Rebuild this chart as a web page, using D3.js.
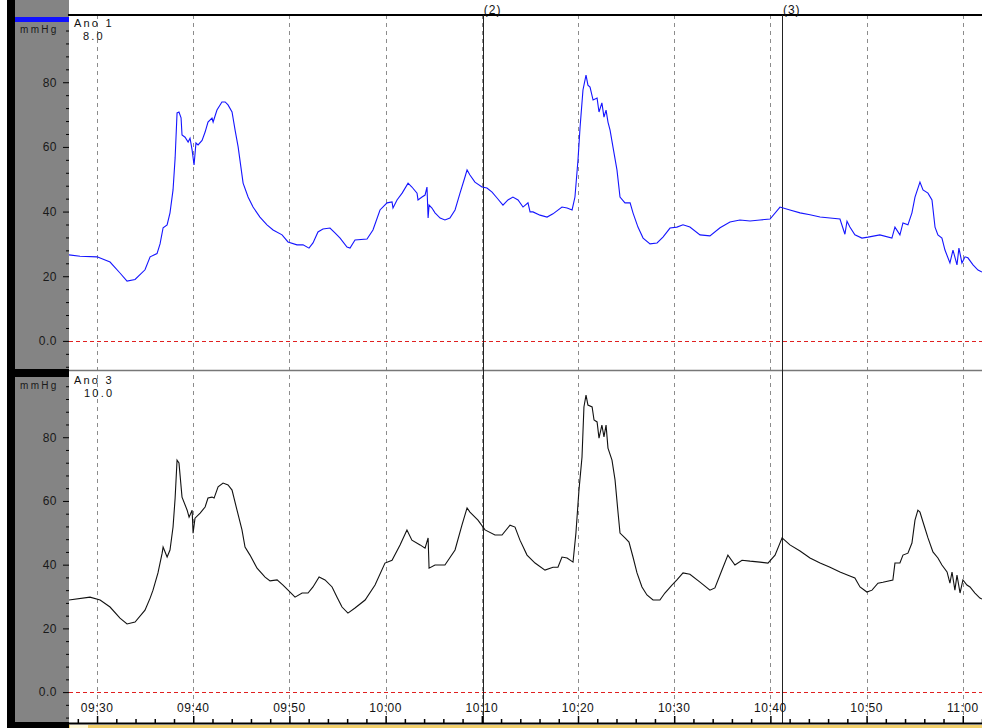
<!DOCTYPE html>
<html>
<head>
<meta charset="utf-8">
<script src="https://cdn.jsdelivr.net/npm/d3@7"></script>
<style>
  body { margin: 0; background: #fff; }
  svg text { font-family: "Liberation Sans", Arial, sans-serif; }
</style>
</head>
<body>
<div id="chart"></div>
<script>
// recording window, minutes after 09:00
var startMin = 27.09, endMin = 122.0;

// Ano 1 (blue) - minutes after 09:00 / mmHg
var ano1Min = [27.09, 28.23, 30, 31.35, 32.39, 33.12, 33.95, 34.99, 35.51, 36.24, 36.55, 36.86, 37.28, 37.59, 37.9, 38.11, 38.32, 38.52, 38.73, 38.84,
  39.15, 39.46, 39.67, 39.88, 40.08, 40.29, 40.5, 40.91, 41.23, 41.54, 41.95, 42.06, 42.47, 42.99, 43.31, 43.62, 44.03, 44.35, 44.66, 45.18,
  45.7, 46.22, 46.94, 47.67, 48.3, 49.23, 49.85, 50.79, 51.41, 52.04, 52.45, 52.97, 53.49, 54.22, 54.74, 55.26, 55.99, 56.3, 56.82, 58.07,
  58.69, 59.42, 60.15, 60.67, 60.77, 61.19, 61.71, 62.33, 62.74, 63.26, 63.37, 63.78, 64.1, 64.3, 64.41, 64.51, 64.82, 65.14, 65.66, 66.17,
  66.69, 67.21, 67.73, 68.25, 68.46, 68.77, 69.29, 70.02, 70.54, 71.06, 71.58, 72.2, 72.72, 73.24, 73.76, 74.28, 74.8, 75.01, 75.32, 76.05,
  76.78, 77.4, 78.34, 78.86, 79.38, 79.69, 80, 80.21, 80.52, 80.83, 81.04, 81.25, 81.56, 81.98, 82.18, 82.49, 82.7, 82.91, 83.12, 83.33,
  83.64, 84.05, 84.37, 84.89, 85.41, 85.72, 86.24, 86.76, 87.48, 88.21, 88.84, 89.56, 90.29, 90.91, 91.64, 92.68, 93.72, 94.76, 95.8, 96.84,
  97.88, 98.92, 99.96, 101, 102.04, 103.08, 104.12, 105.16, 106.2, 107.23, 107.75, 107.96, 108.27, 108.79, 109.52, 110.15, 111.39, 112.64, 112.95, 113.47,
  113.78, 114.3, 114.72, 115.03, 115.55, 115.86, 116.38, 116.8, 117.11, 117.42, 117.84, 118.15, 118.67, 118.98, 119.4, 119.6, 119.92, 120.23, 120.54, 121.06,
  121.58, 122];
var ano1Val = [26.6, 26.2, 26, 24.4, 21, 18.5, 19, 22, 26, 27, 30, 35, 35.9, 39.6, 46.7, 56.6, 70.5, 70.8, 69, 63.7,
  63, 61.5, 62.7, 59, 54.4, 61.2, 60.6, 62, 64.6, 67.7, 68.9, 67.7, 71.4, 73.9, 73.9, 73, 70.8, 65.2, 60, 48.8,
  44.5, 41.4, 38.3, 35.9, 34.3, 32.8, 30.6, 29.7, 29.7, 28.7, 30.3, 33.7, 34.6, 34.9, 33.4, 31.8, 29, 28.7, 31.2, 31.5,
  34.3, 40.5, 42.7, 43, 41.1, 43.6, 45.7, 48.8, 47.6, 45.7, 43.6, 44.5, 45.1, 47.6, 38, 42, 41.1, 39.6, 38, 37.4,
  38, 40.5, 45.7, 50.7, 52.9, 51.3, 49.1, 47.6, 47.3, 46, 44.2, 42, 43.6, 44.5, 43.6, 41.4, 42.7, 39.9, 39.9, 38.9,
  38.3, 39.3, 41.4, 41.1, 40.5, 44.5, 56, 66.2, 77.6, 82.2, 79.1, 78.5, 74.5, 75.1, 70.8, 73.6, 69.2, 71.4, 67.7, 65.2,
  60, 52.9, 44.5, 42.7, 42.7, 39.6, 35.2, 31.8, 30, 30.3, 32.1, 34.9, 35.2, 35.9, 35.2, 32.8, 32.5, 35, 36.8, 37.4,
  37.1, 37.4, 37.7, 41.4, 40.5, 39.6, 39, 38.3, 38, 37.7, 33, 37, 35.2, 32.8, 31.8, 32.1, 32.8, 31.8, 35.2, 32.8,
  36.5, 35.9, 39.6, 44.5, 49.1, 46.7, 45.7, 43.6, 35.2, 32.8, 31.8, 28.1, 24.1, 28.1, 23.5, 28.7, 24.1, 26, 25.7, 23.5,
  21.9, 21.3];

// Ano 3 (black) - minutes after 09:00 / mmHg
var ano3Min = [27.09, 29.27, 30.31, 31.35, 32.39, 33.12, 33.95, 34.99, 35.51, 35.82, 36.34, 36.76, 36.86, 37.28, 37.59, 37.9, 38.11, 38.32, 38.52, 38.84,
  39.36, 39.56, 39.88, 39.98, 40.19, 40.71, 41.23, 41.54, 41.95, 42.16, 42.58, 43.1, 43.62, 44.03, 44.55, 45.07, 45.38, 45.9, 46.63, 47.46,
  47.98, 48.71, 49.33, 50.06, 50.58, 51.31, 51.93, 52.45, 53.08, 53.7, 54.43, 54.95, 55.47, 56.09, 56.82, 57.86, 58.9, 59.94, 60.67, 61.5,
  62.22, 62.74, 63.58, 64.1, 64.41, 64.51, 65.14, 66.17, 67.21, 67.94, 68.46, 68.77, 69.6, 70.33, 71.37, 72.1, 72.93, 73.45, 73.97, 74.7,
  75.53, 76.57, 77.4, 77.92, 78.34, 78.86, 79.48, 79.79, 80.1, 80.42, 80.62, 80.83, 81.04, 81.46, 81.66, 81.98, 82.18, 82.49, 82.7, 82.91,
  83.12, 83.53, 83.85, 84.16, 84.37, 84.89, 85.3, 85.72, 86.13, 86.65, 87.17, 87.8, 88.52, 89.04, 89.77, 90.29, 90.91, 91.64, 92.68, 93.72,
  94.24, 94.97, 95.59, 96.32, 97.05, 97.88, 98.92, 99.75, 100.48, 101.21, 102.04, 103.08, 104.12, 105.16, 106.2, 107.23, 108.06, 108.79, 109.31, 110.04,
  110.56, 111.18, 111.7, 112.74, 112.95, 113.47, 113.78, 114.3, 114.72, 115.03, 115.34, 115.55, 115.86, 116.38, 116.9, 117.42, 117.84, 118.36, 118.67, 118.88,
  119.19, 119.4, 119.71, 120.02, 120.44, 120.75, 121.27, 121.79, 122];
var ano3Val = [28.9, 29.8, 28.9, 26.7, 23.2, 21.4, 22, 25.7, 29.5, 32, 37.4, 43.6, 45.5, 42.4, 44.6, 51.8, 60.9, 72.8, 71.9, 61.2,
  57.1, 54.9, 57.1, 49.9, 54.6, 56.2, 58.1, 60.9, 61.2, 60.9, 64.4, 65.6, 65, 63.4, 57.1, 50.9, 45.5, 43, 38.9, 36.1,
  34.9, 35.2, 33.6, 31.4, 29.8, 31.1, 31.1, 33, 36.1, 35.2, 33, 29.8, 26.7, 24.8, 26.4, 28.9, 33.6, 40.5, 41.4, 46.2,
  50.9, 47.7, 46.2, 45.2, 48.4, 38.9, 39.9, 39.9, 44.6, 52.4, 57.8, 56.5, 54, 50.9, 49.3, 49.3, 52.4, 51.8, 47.7, 43,
  40.5, 38.3, 39.2, 39.2, 42.4, 42.1, 40.8, 49.9, 63.4, 73.8, 89.5, 93.2, 90.1, 89.5, 85.4, 84.8, 79.7, 83.8, 80.1, 83.8,
  76.6, 72.8, 66.6, 56.2, 49.9, 48.4, 47.1, 42.4, 37.4, 33, 30.5, 28.9, 28.9, 31.1, 33.6, 35.2, 37.4, 37, 34.5, 32,
  32.7, 38.3, 43, 39.9, 41.4, 41.1, 40.8, 40.5, 43, 48.4, 46.2, 44.3, 42.1, 40.5, 39.2, 37.7, 36.7, 35.8, 33, 31.4,
  32, 34.2, 34.5, 35.2, 40.5, 40.5, 43, 43.6, 46.8, 54, 57.1, 56.5, 53.4, 48.4, 44, 42.1, 39.9, 37.7, 34.2, 37.7,
  32, 36.7, 31.1, 35.2, 33.6, 33, 31.1, 29.5, 29.2];

// event markers
var eventLabels = ["(2)", "(3)"];
var eventMin = [70.1, 101.2];

// panel titles
var panelNames = ["Ano 1", "Ano 3"];
var panelScaleText = ["8.0", "10.0"];

var W = 982, H = 728;
var plotL = 69, plotR = 982, topY = 15, sepY = 370, botY = 723;

function toDate(m) { return new Date(2000, 0, 1, 9, 0, Math.round(m * 60)); }

var svg = d3.select("#chart").append("svg")
    .attr("width", W)
    .attr("height", H);

var x = d3.scaleTime()
    .domain([toDate(startMin), toDate(endMin)])
    .range([plotL, plotR]);

var y1 = d3.scaleLinear().domain([-9, 100.8]).range([sepY, topY]);
var y3 = d3.scaleLinear().domain([-9.7, 101.1]).range([botY, sepY]);

// left gray strip
svg.append("rect").attr("x", 7).attr("y", 0).attr("width", 8).attr("height", H).attr("fill", "#000");
svg.append("rect").attr("x", 15).attr("y", 0).attr("width", plotL - 15).attr("height", botY).attr("fill", "#848484");
svg.append("rect").attr("x", 7).attr("y", sepY - 1).attr("width", plotL - 7).attr("height", 8).attr("fill", "#000");
svg.append("rect").attr("x", 7).attr("y", botY - 1).attr("width", plotL - 7).attr("height", H - botY + 1).attr("fill", "#000");
svg.append("rect").attr("x", 15).attr("y", 17).attr("width", plotL - 15).attr("height", 5).attr("fill", "#1010ff");

// bottom yellow strip
svg.append("rect").attr("x", plotL).attr("y", botY + 2).attr("width", W - plotL).attr("height", 3).attr("fill", "#f2cf6a");
svg.append("rect").attr("x", plotL + 1).attr("y", botY + 2).attr("width", 18).attr("height", 3).attr("fill", "#fff8d8");

// vertical dashed gridlines every 10 minutes
var gridTicks = x.ticks(d3.timeMinute.every(10));
svg.append("g").selectAll("line")
  .data(gridTicks)
  .enter().append("line")
    .attr("x1", function(d) { return Math.round(x(d)) + 0.5; })
    .attr("x2", function(d) { return Math.round(x(d)) + 0.5; })
    .attr("y1", topY)
    .attr("y2", botY)
    .attr("stroke", "#8c8c8c")
    .attr("stroke-dasharray", "4,4");

// zero lines
svg.append("line")
    .attr("x1", plotL).attr("x2", plotR)
    .attr("y1", Math.round(y1(0)) + 0.5).attr("y2", Math.round(y1(0)) + 0.5)
    .attr("stroke", "#e02020").attr("stroke-dasharray", "4,3");
svg.append("line")
    .attr("x1", plotL).attr("x2", plotR)
    .attr("y1", Math.round(y3(0)) + 0.5).attr("y2", Math.round(y3(0)) + 0.5)
    .attr("stroke", "#e02020").attr("stroke-dasharray", "4,3");

// separator and top border
svg.append("line").attr("x1", plotL).attr("x2", plotR).attr("y1", sepY + 0.5).attr("y2", sepY + 0.5)
    .attr("stroke", "#777").attr("stroke-width", 1.5);
svg.append("line").attr("x1", plotL - 1).attr("x2", plotR).attr("y1", topY).attr("y2", topY)
    .attr("stroke", "#000").attr("stroke-width", 2);

// event lines
svg.append("g").selectAll("line")
  .data(eventMin)
  .enter().append("line")
    .attr("x1", function(d) { return Math.round(x(toDate(d))) + 0.5; })
    .attr("x2", function(d) { return Math.round(x(toDate(d))) + 0.5; })
    .attr("y1", topY)
    .attr("y2", botY)
    .attr("stroke", "#222");
svg.append("g").selectAll("text")
  .data(eventMin)
  .enter().append("text")
    .attr("x", function(d) { return x(toDate(d)) + 1; })
    .attr("y", 14)
    .style("font-size", "12px")
    .style("letter-spacing", "1px")
    .attr("fill", "#111")
    .text(function(d, i) { return eventLabels[i]; });

// traces
var line1 = d3.line()
    .x(function(d, i) { return x(toDate(ano1Min[i])); })
    .y(function(d) { return y1(d); });
var line3 = d3.line()
    .x(function(d, i) { return x(toDate(ano3Min[i])); })
    .y(function(d) { return y3(d); });

svg.append("path")
    .datum(ano1Val)
    .attr("d", line1)
    .attr("fill", "none")
    .attr("stroke", "#1515ff")
    .attr("stroke-width", 1.1);
svg.append("path")
    .datum(ano3Val)
    .attr("d", line3)
    .attr("fill", "none")
    .attr("stroke", "#111")
    .attr("stroke-width", 1.1);

// y axes in the gray strip
function drawYAxis(scale, lo, hi) {
  var g = svg.append("g")
      .attr("transform", "translate(" + plotL + ",0)")
      .call(d3.axisLeft(scale)
        .tickValues(d3.range(lo, hi, 4))
        .tickSize(3)
        .tickPadding(9)
        .tickFormat(function(d) { return d == 0 ? "0.0" : (d > 0 && d % 20 == 0 ? d : ""); }));
  g.select(".domain").remove();
  g.selectAll(".tick line").attr("stroke", "#000")
    .attr("x2", function(d) { return d % 20 == 0 ? -6 : -3; });
  g.selectAll(".tick text")
    .style("font-size", "12px")
    .style("letter-spacing", "0.5px")
    .attr("fill", "#1a1a1a");
  return g;
}
drawYAxis(y1, -8, 100);
drawYAxis(y3, -8, 100);

// unit labels
[33, 389].forEach(function(yy) {
  svg.append("text").attr("x", 20).attr("y", yy)
    .style("font-size", "10px").style("letter-spacing", "2.3px")
    .attr("fill", "#1a1a1a").text("mmHg");
});

// panel titles
var titleY = [27, 384];
panelNames.forEach(function(n, i) {
  svg.append("text").attr("x", 74).attr("y", titleY[i])
    .style("font-size", "11px").style("letter-spacing", "2.2px")
    .attr("fill", "#111").text(n);
  svg.append("text").attr("x", i == 0 ? 83 : 84).attr("y", titleY[i] + 13)
    .style("font-size", "11px").style("letter-spacing", "2.2px")
    .attr("fill", "#111").text(panelScaleText[i]);
});

// time axis
var xAxis = svg.append("g")
    .attr("transform", "translate(0," + botY + ")")
    .call(d3.axisTop(x).ticks(d3.timeMinute.every(2)).tickSize(4).tickFormat(""));
xAxis.select(".domain").remove();
xAxis.selectAll(".tick line").attr("stroke", "#000").attr("stroke-width", 1.5)
  .attr("y2", function(d) { return d.getMinutes() % 10 == 0 ? -7 : -4; });
svg.append("line").attr("x1", plotL).attr("x2", plotR).attr("y1", botY + 0.5).attr("y2", botY + 0.5)
    .attr("stroke", "#000").attr("stroke-width", 2);

svg.append("g").selectAll("text")
  .data(gridTicks)
  .enter().append("text")
    .attr("x", function(d) { return x(d); })
    .attr("y", 712)
    .attr("text-anchor", "middle")
    .style("font-size", "12px")
    .style("letter-spacing", "0.5px")
    .attr("fill", "#111")
    .text(d3.timeFormat("%H:%M"));
</script>
</body>
</html>
